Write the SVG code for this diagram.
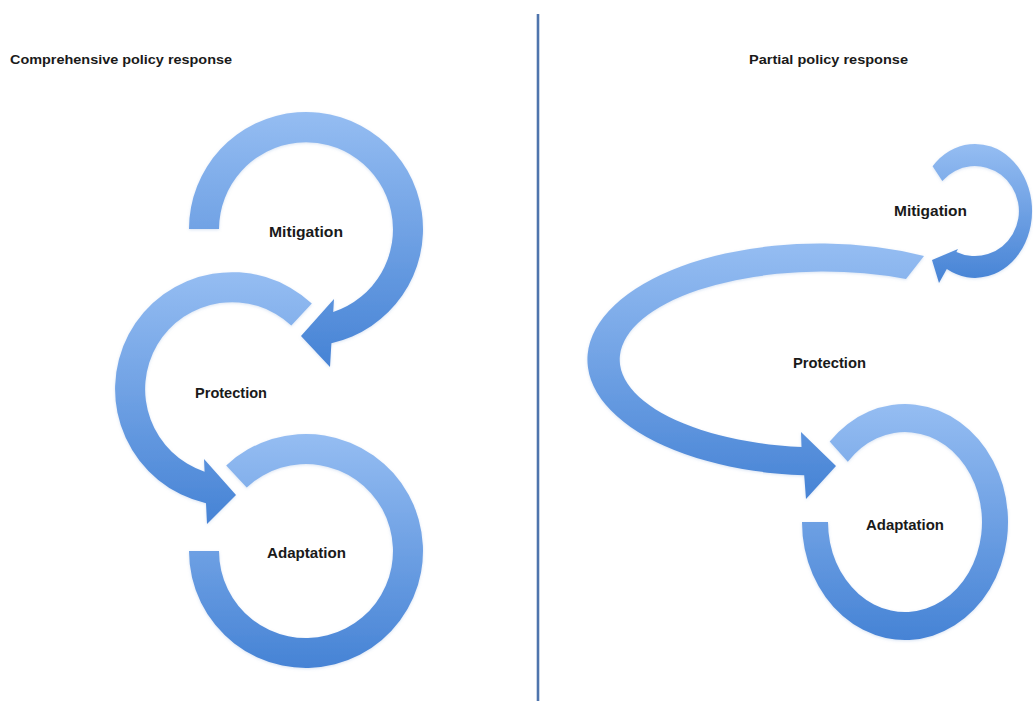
<svg xmlns="http://www.w3.org/2000/svg" width="1033" height="701" viewBox="0 0 1033 701">
  <style>
    .title { font-family: "Liberation Sans", Arial, sans-serif; font-weight: bold; font-size: 13px; fill: #1a1a1a; }
    .label { font-family: "Liberation Sans", Arial, sans-serif; font-weight: bold; font-size: 14.5px; fill: #1a1a1a; }
    .arrow { fill: url(#blueGrad); filter: url(#soft); }
    .divider { stroke: #4f75ad; stroke-width: 2.6; fill: none; }
  </style>
  <defs>
    <linearGradient id="blueGrad" x1="0" y1="0" x2="0" y2="1">
      <stop offset="0" stop-color="#95bdf2"/>
      <stop offset="1" stop-color="#4683d5"/>
    </linearGradient>
    <filter id="soft" x="-10%" y="-10%" width="120%" height="120%">
      <feDropShadow dx="0" dy="1" stdDeviation="1.5" flood-color="#7fa3d6" flood-opacity="0.3"/>
    </filter>
  </defs>
  <rect width="1033" height="701" fill="#ffffff"/>

  <text class="title" x="10" y="64" textLength="222" lengthAdjust="spacingAndGlyphs">Comprehensive policy response</text>
  <text class="title" x="749" y="64" textLength="159" lengthAdjust="spacingAndGlyphs">Partial policy response</text>

  <line class="divider" x1="538" y1="14" x2="538" y2="701"/>

  <g id="connectors"></g>

  <!-- Left side: comprehensive -->
  <g id="left-mitigation">
    <path class="arrow" d="M 189,229 A 117 117 0 1 1 331.4,343.2 L 330,367 L 301,336 L 334,299 L 333.2,312 A 87 87 0 1 0 219,229 Z"/>
    <text class="label" x="269" y="237" textLength="74" lengthAdjust="spacingAndGlyphs">Mitigation</text>
  </g>
  <g id="left-protection">
    <path class="arrow" d="M 311.8,303.5 A 117 117 0 1 0 206,503.2 L 207,524 L 236,495 L 204,459 L 204.6,471.7 A 87 87 0 1 1 291.3,325.4 Z"/>
    <text class="label" x="195" y="398" textLength="72" lengthAdjust="spacingAndGlyphs">Protection</text>
  </g>
  <g id="left-adaptation">
    <path class="arrow" d="M 189,551 A 117 117 0 1 0 226.2,465.4 L 246.7,487.4 A 87 87 0 1 1 219,551 Z"/>
    <text class="label" x="267" y="558" textLength="79" lengthAdjust="spacingAndGlyphs">Adaptation</text>
  </g>

  <!-- Right side: partial -->
  <g id="right-mitigation">
    <path class="arrow" d="M 932.6,166.2 A 57 67 0 1 1 946.8,269.1 L 939,283 L 932,260 L 958,249 L 956.4,251.9 A 44 45 0 1 0 942.3,180.9 Z"/>
    <text class="label" x="894" y="216" textLength="73" lengthAdjust="spacingAndGlyphs">Mitigation</text>
  </g>
  <g id="right-protection">
    <path class="arrow" d="M 924,256 A 232 116 0 1 0 804.2,475.3 L 806,499 L 836,466 L 801,432 L 801.5,447 A 204 88 0 1 1 906,279 Z"/>
    <text class="label" x="793" y="368" textLength="73" lengthAdjust="spacingAndGlyphs">Protection</text>
  </g>
  <g id="right-adaptation">
    <path class="arrow" d="M 802,522 A 103 118 0 1 0 829.7,441.5 L 847.8,461.8 A 77 90 0 1 1 828,522 Z"/>
    <text class="label" x="866" y="530" textLength="78" lengthAdjust="spacingAndGlyphs">Adaptation</text>
  </g>
</svg>
